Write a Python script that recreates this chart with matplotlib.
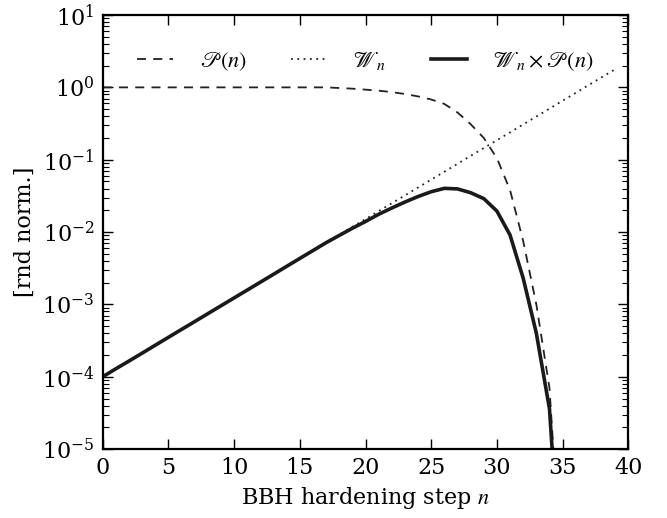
import matplotlib
matplotlib.use('Agg')
import matplotlib.pyplot as plt
import numpy as np

plt.rcParams['font.family'] = 'DejaVu Serif'
plt.rcParams['mathtext.fontset'] = 'stix'
plt.rcParams['axes.unicode_minus'] = False

# hardening step
n_w = np.arange(0, 40)
n_p = np.arange(0, 36)

# W_n
W_n = [1.00e-4, 1.29e-4, 1.65e-4, 2.12e-4, 2.73e-4, 3.51e-4, 4.51e-4, 5.79e-4,
       7.45e-4, 9.57e-4, 1.23e-3, 1.58e-3, 2.03e-3, 2.61e-3, 3.36e-3, 4.32e-3,
       5.55e-3, 7.13e-3, 9.16e-3, 1.18e-2, 1.51e-2, 1.95e-2, 2.50e-2, 3.21e-2,
       4.13e-2, 5.31e-2, 6.82e-2, 8.77e-2, 0.113, 0.145, 0.186, 0.239,
       0.308, 0.395, 0.508, 0.653, 0.839, 1.08, 1.39, 1.78]

# P(n)
P_n = [1.0, 1.0, 1.0, 1.0, 1.0, 1.0, 1.0, 1.0, 1.0, 1.0, 1.0, 1.0,
       1.0, 1.0, 1.0, 1.0, 1.0, 1.0, 0.98, 0.96, 0.93, 0.90, 0.86, 0.81,
       0.75, 0.68, 0.59, 0.45, 0.31, 0.20, 0.105, 0.038, 7.5e-3, 1.0e-3,
       7.0e-5, 1.0e-7]

# W_n x P(n)
WP_n = [1.00e-4, 1.29e-4, 1.65e-4, 2.12e-4, 2.73e-4, 3.51e-4, 4.51e-4, 5.79e-4,
        7.45e-4, 9.57e-4, 1.23e-3, 1.58e-3, 2.03e-3, 2.61e-3, 3.36e-3, 4.32e-3,
        5.55e-3, 7.13e-3, 8.98e-3, 1.13e-2, 1.40e-2, 1.76e-2, 2.15e-2, 2.60e-2,
        3.10e-2, 3.61e-2, 4.02e-2, 3.95e-2, 3.50e-2, 2.90e-2, 1.95e-2, 9.1e-3,
        2.3e-3, 4.0e-4, 3.6e-5, 6.5e-8]

fig = plt.figure(figsize=(6.67, 5.18), dpi=100)
ax = fig.add_axes([0.154, 0.133, 0.788, 0.838])

ax.plot(n_p, P_n, color='#222222', lw=1.3, ls=(0, (5, 4)), label=r'$\mathscr{P}(n)$')
ax.plot(n_w, W_n, color='#222222', lw=1.3, ls=(0, (1, 2.5)), label=r'$\mathscr{W}_n$')
ax.plot(n_p, WP_n, color='#1a1a1a', lw=2.6, label=r'$\mathscr{W}_n\times\mathscr{P}(n)$')

ax.set_yscale('log')
ax.set_xlim(0, 40)
ax.set_ylim(1e-5, 1e1)
ax.set_xticks(np.arange(0, 41, 5))
ax.tick_params(which='both', direction='in', top=True, right=True, labelsize=16)
ax.tick_params(which='major', length=7, width=1, pad=6)
ax.tick_params(which='minor', length=4, width=0.8)
for s in ax.spines.values():
    s.set_linewidth(1.6)

ax.set_xlabel(r'BBH hardening step $n$', fontsize=16, labelpad=4)
ax.set_ylabel('[rnd norm.]', fontsize=16, labelpad=4)

ax.legend(loc='upper center', ncol=3, frameon=False, fontsize=16,
          handlelength=1.6, handletextpad=1.2, columnspacing=2.0,
          bbox_to_anchor=(0.5, 0.965))

fig.savefig('out.png', dpi=100)
